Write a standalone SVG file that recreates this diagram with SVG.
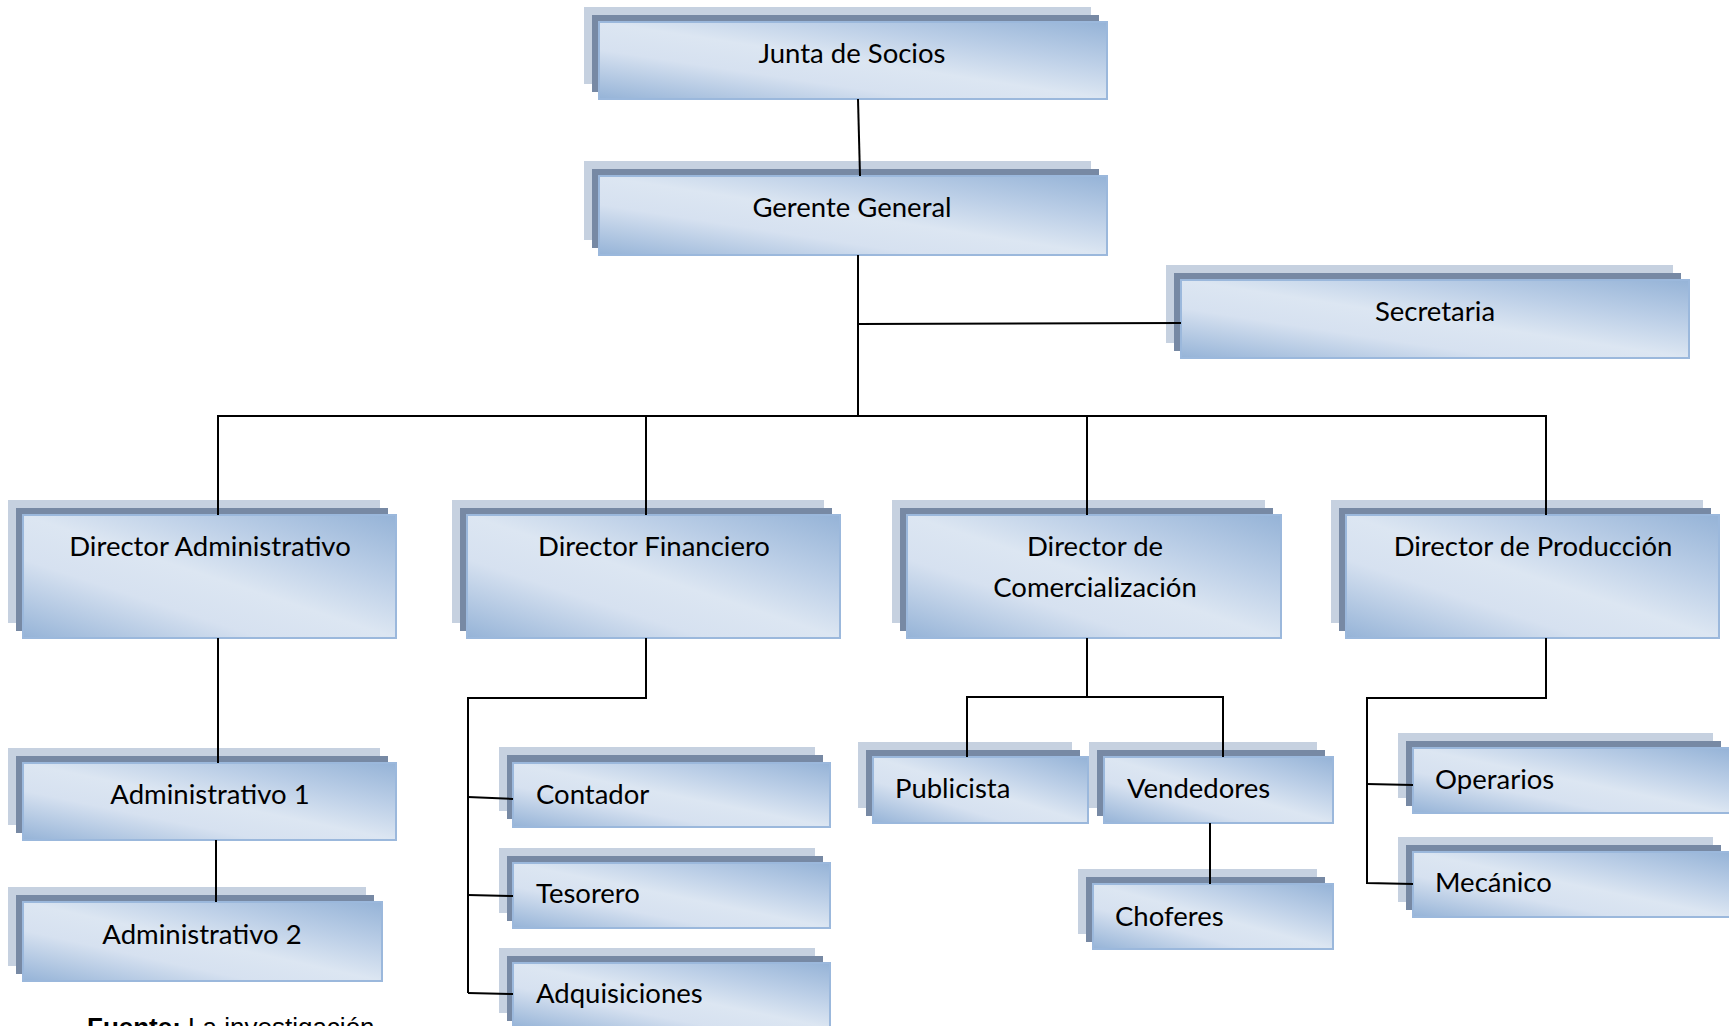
<svg xmlns="http://www.w3.org/2000/svg" width="1729" height="1026" viewBox="0 0 1729 1026">
<defs>
<linearGradient id="g" x1="1" y1="0" x2="0" y2="1">
<stop offset="0" stop-color="#95b3d7"/>
<stop offset="0.28" stop-color="#bccfe7"/>
<stop offset="0.5" stop-color="#dce6f2"/>
<stop offset="0.68" stop-color="#d6e1f0"/>
<stop offset="1" stop-color="#95b3d7"/>
</linearGradient>
</defs>
<style>
.bk{fill:#c6d1e0}
.dk{fill:#7789a4}
.fr{fill:url(#g);stroke:#9bb8dc;stroke-width:2}
text{font-family:Lato,"Open Sans","Liberation Sans",sans-serif;font-size:27.5px;fill:#000}
.c{text-anchor:middle}
.cn line,.cn polyline{stroke:#000;stroke-width:2;fill:none}
.ft{font-family:"Liberation Sans",Arial,sans-serif;font-size:26px}
</style>
<rect width="1729" height="1026" fill="#fff"/>

<g id="junta"><rect class="bk" x="584" y="7" width="507" height="77"/><rect class="dk" x="592" y="15" width="507" height="77"/><rect class="fr" x="599" y="22" width="508" height="77"/><text class="c" x="852" y="63">Junta de Socios</text></g>
<g id="gerente"><rect class="bk" x="584" y="161" width="507" height="79"/><rect class="dk" x="592" y="169" width="507" height="79"/><rect class="fr" x="599" y="176" width="508" height="79"/><text class="c" x="852" y="217">Gerente General</text></g>
<g id="secretaria"><rect class="bk" x="1166" y="265" width="507" height="78"/><rect class="dk" x="1174" y="273" width="507" height="78"/><rect class="fr" x="1181" y="280" width="508" height="78"/><text class="c" x="1435" y="321">Secretaria</text></g>

<g id="dir-admin"><rect class="bk" x="8" y="500" width="372" height="123"/><rect class="dk" x="16" y="508" width="372" height="123"/><rect class="fr" x="23" y="515" width="373" height="123"/><text class="c" x="210" y="556">Director Administrativo</text></g>
<g id="dir-fin"><rect class="bk" x="452" y="500" width="372" height="123"/><rect class="dk" x="460" y="508" width="372" height="123"/><rect class="fr" x="467" y="515" width="373" height="123"/><text class="c" x="654" y="556">Director Financiero</text></g>
<g id="dir-com"><rect class="bk" x="892" y="500" width="373" height="123"/><rect class="dk" x="900" y="508" width="373" height="123"/><rect class="fr" x="907" y="515" width="374" height="123"/><text class="c" x="1095" y="556">Director de</text><text class="c" x="1095" y="597">Comercialización</text></g>
<g id="dir-prod"><rect class="bk" x="1331" y="500" width="372" height="123"/><rect class="dk" x="1339" y="508" width="372" height="123"/><rect class="fr" x="1346" y="515" width="373" height="123"/><text class="c" x="1533" y="556">Director de Producción</text></g>

<g id="admin1"><rect class="bk" x="8" y="748" width="372" height="77"/><rect class="dk" x="16" y="756" width="372" height="77"/><rect class="fr" x="23" y="763" width="373" height="77"/><text class="c" x="210" y="804">Administrativo 1</text></g>
<g id="admin2"><rect class="bk" x="8" y="887" width="358" height="79"/><rect class="dk" x="16" y="895" width="358" height="79"/><rect class="fr" x="23" y="902" width="359" height="79"/><text class="c" x="202" y="944">Administrativo 2</text></g>

<g id="contador"><rect class="bk" x="499" y="747" width="316" height="64"/><rect class="dk" x="507" y="755" width="316" height="64"/><rect class="fr" x="513" y="763" width="317" height="64"/><text x="536" y="804">Contador</text></g>
<g id="tesorero"><rect class="bk" x="499" y="848" width="316" height="65"/><rect class="dk" x="507" y="856" width="316" height="65"/><rect class="fr" x="513" y="863" width="317" height="65"/><text x="536" y="903">Tesorero</text></g>
<g id="adquisiciones"><rect class="bk" x="499" y="948" width="316" height="65"/><rect class="dk" x="507" y="956" width="316" height="65"/><rect class="fr" x="513" y="963" width="317" height="65"/><text x="536" y="1003">Adquisiciones</text></g>

<g id="publicista"><rect class="bk" x="858" y="742" width="214" height="66"/><rect class="dk" x="866" y="750" width="214" height="66"/><rect class="fr" x="873" y="757" width="215" height="66"/><text x="895" y="798">Publicista</text></g>
<g id="vendedores"><rect class="bk" x="1089" y="742" width="228" height="66"/><rect class="dk" x="1097" y="750" width="228" height="66"/><rect class="fr" x="1104" y="757" width="229" height="66"/><text x="1127" y="798">Vendedores</text></g>
<g id="choferes"><rect class="bk" x="1078" y="869" width="239" height="65"/><rect class="dk" x="1086" y="877" width="239" height="65"/><rect class="fr" x="1093" y="884" width="240" height="65"/><text x="1115" y="926">Choferes</text></g>

<g id="operarios"><rect class="bk" x="1398" y="733" width="315" height="65"/><rect class="dk" x="1406" y="741" width="315" height="65"/><rect class="fr" x="1413" y="748" width="317" height="65"/><text x="1435" y="789">Operarios</text></g>
<g id="mecanico"><rect class="bk" x="1398" y="837" width="315" height="65"/><rect class="dk" x="1406" y="845" width="315" height="65"/><rect class="fr" x="1413" y="852" width="317" height="65"/><text x="1435" y="892">Mecánico</text></g>

<g id="connectors" class="cn">
<line x1="858" y1="99" x2="860" y2="176"/>
<line x1="858" y1="255" x2="858" y2="416"/>
<line x1="858" y1="324" x2="1181" y2="323"/>
<line x1="217" y1="416" x2="1547" y2="416"/>
<line x1="218" y1="416" x2="218" y2="515"/>
<line x1="646" y1="416" x2="646" y2="515"/>
<line x1="1087" y1="416" x2="1087" y2="515"/>
<line x1="1546" y1="416" x2="1546" y2="515"/>
<line x1="218" y1="638" x2="218" y2="763"/>
<line x1="216" y1="840" x2="216" y2="902"/>
<polyline points="646,638 646,698 468,698 468,993"/>
<line x1="468" y1="797" x2="513" y2="799"/>
<line x1="468" y1="895" x2="513" y2="896"/>
<line x1="468" y1="993" x2="513" y2="994"/>
<line x1="1087" y1="638" x2="1087" y2="697"/>
<polyline points="967,757 967,697 1223,697 1223,757"/>
<line x1="1210" y1="823" x2="1210" y2="884"/>
<polyline points="1546,638 1546,698 1367,698 1367,883 1413,884"/>
<line x1="1367" y1="784" x2="1413" y2="785"/>
</g>

<text class="ft" x="87" y="1036"><tspan font-weight="bold">Fuente:</tspan> La investigación</text>
</svg>
